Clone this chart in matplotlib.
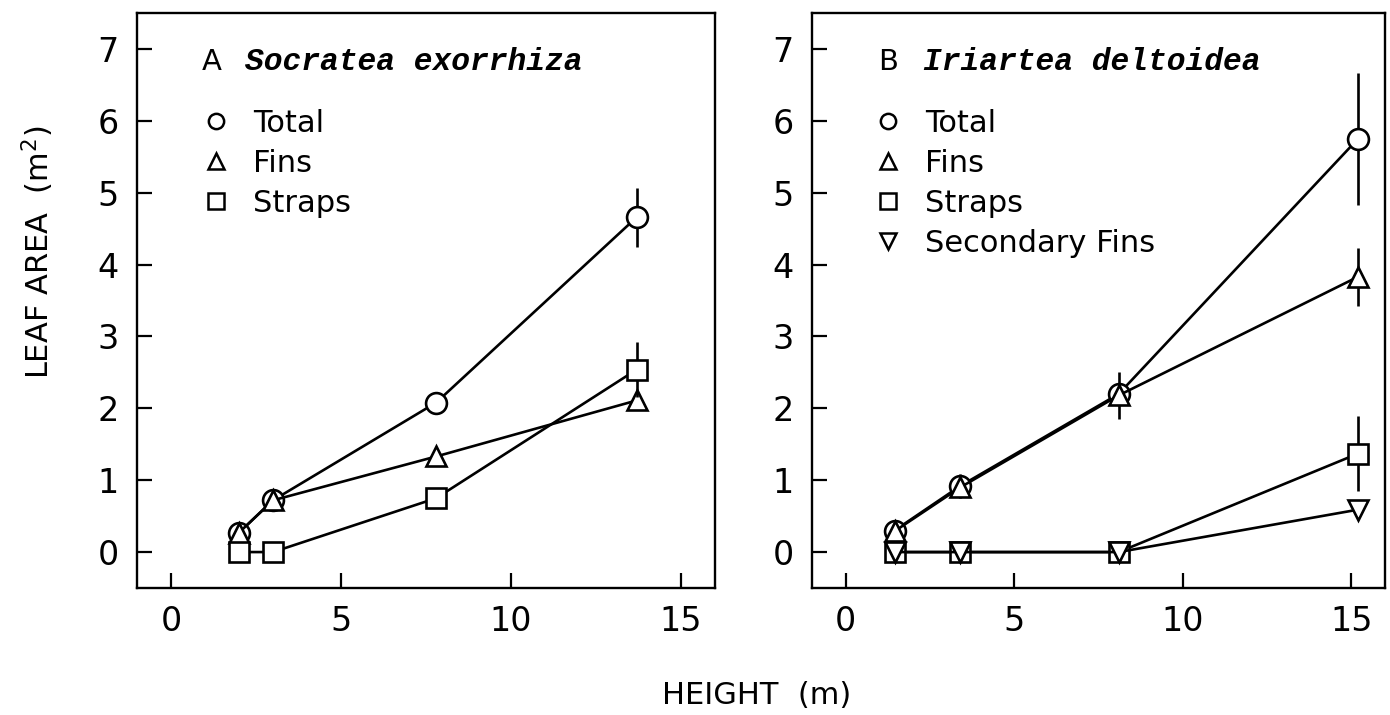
import matplotlib
matplotlib.use("Agg")
import matplotlib.pyplot as plt
from matplotlib.lines import Line2D

# panel A - Socratea exorrhiza
a_height = [2.0, 3.0, 7.8, 13.7]
a_total = [0.27, 0.72, 2.08, 4.66]
a_total_err = [0, 0, 0, 0.41]
a_fins = [0.27, 0.72, 1.33, 2.11]
a_straps = [0.0, 0.0, 0.75, 2.54]
a_straps_err = [0, 0, 0, 0.38]

# panel B - Iriartea deltoidea
b_height = [1.45, 3.4, 8.1, 15.2]
b_total = [0.30, 0.92, 2.20, 5.75]
b_total_err = [0, 0.17, 0, 0.92]
b_fins = [0.29, 0.90, 2.18, 3.83]
b_fins_err = [0, 0, 0.33, 0.40]
b_straps = [0.0, 0.0, 0.0, 1.37]
b_straps_err = [0, 0, 0, 0.52]
b_secfins = [0.0, 0.0, 0.0, 0.59]

x_ticks = [0, 5, 10, 15]
y_ticks = [0, 1, 2, 3, 4, 5, 6, 7]

plt.rcParams["font.family"] = ["DejaVu Sans"]

W, H = 1390, 715
fig = plt.figure(figsize=(W / 100, H / 100), dpi=100)


def px_axes(left, right, top, bottom):
    return fig.add_axes([left / W, 1 - bottom / H, (right - left) / W, (bottom - top) / H])


ax_a = px_axes(137, 715, 13, 588)
ax_b = px_axes(812, 1385, 13, 588)

mk = dict(markersize=15, markerfacecolor="white", markeredgecolor="black",
          markeredgewidth=1.9, color="black", linewidth=1.9,
          elinewidth=1.9, capsize=0)


def series(ax, x, y, err, marker, z):
    ax.errorbar(x, y, yerr=err, marker=marker, zorder=z, **mk)


series(ax_a, a_height, a_total, a_total_err, "o", 3)
series(ax_a, a_height, a_fins, None, "^", 4)
series(ax_a, a_height, a_straps, a_straps_err, "s", 5)

series(ax_b, b_height, b_total, b_total_err, "o", 3)
series(ax_b, b_height, b_fins, b_fins_err, "^", 4)
series(ax_b, b_height, b_straps, b_straps_err, "s", 5)
series(ax_b, b_height, b_secfins, None, "v", 6)

for ax in (ax_a, ax_b):
    ax.set_xlim(-1, 16)
    ax.set_ylim(-0.5, 7.5)
    ax.set_xticks(x_ticks)
    ax.set_yticks(y_ticks)
    ax.tick_params(direction="in", length=11, width=1.6, labelsize=24,
                   top=False, right=False)
    ax.tick_params(axis="y", pad=13)
    ax.tick_params(axis="x", pad=12)
    for s in ax.spines.values():
        s.set_linewidth(1.7)

ax_a.text(0.112, 0.915, "A", transform=ax_a.transAxes, fontsize=21, va="center")
ax_a.text(0.187, 0.915, "Socratea exorrhiza", transform=ax_a.transAxes,
          fontsize=22.5, va="center", family="Liberation Mono", style="italic",
          weight="bold")
ax_b.text(0.115, 0.915, "B", transform=ax_b.transAxes, fontsize=21, va="center")
ax_b.text(0.194, 0.915, "Iriartea deltoidea", transform=ax_b.transAxes,
          fontsize=22.5, va="center", family="Liberation Mono", style="italic",
          weight="bold")


def handle(marker, label):
    return Line2D([0], [0], marker=marker, linestyle="none", markersize=11,
                  markerfacecolor="white", markeredgecolor="black",
                  markeredgewidth=1.8, label=label)


leg_kw = dict(loc="upper left", frameon=False, fontsize=22, handlelength=1.0,
              handletextpad=0.7, labelspacing=0.36, borderaxespad=0, borderpad=0)
ax_a.legend(handles=[handle("o", "Total"), handle("^", "Fins"), handle("s", "Straps")],
            bbox_to_anchor=(0.111, 0.833), **leg_kw)
ax_b.legend(handles=[handle("o", "Total"), handle("^", "Fins"), handle("s", "Straps"),
                     handle("v", "Secondary Fins")],
            bbox_to_anchor=(0.106, 0.833), **leg_kw)

fig.text(38 / W, 1 - 252 / H, "LEAF AREA  (m$^2$)", rotation=90, fontsize=22,
         ha="center", va="center")
fig.text(757 / W, 1 - 695 / H, "HEIGHT  (m)", fontsize=22, ha="center", va="center")

fig.savefig("out.png", dpi=100)
